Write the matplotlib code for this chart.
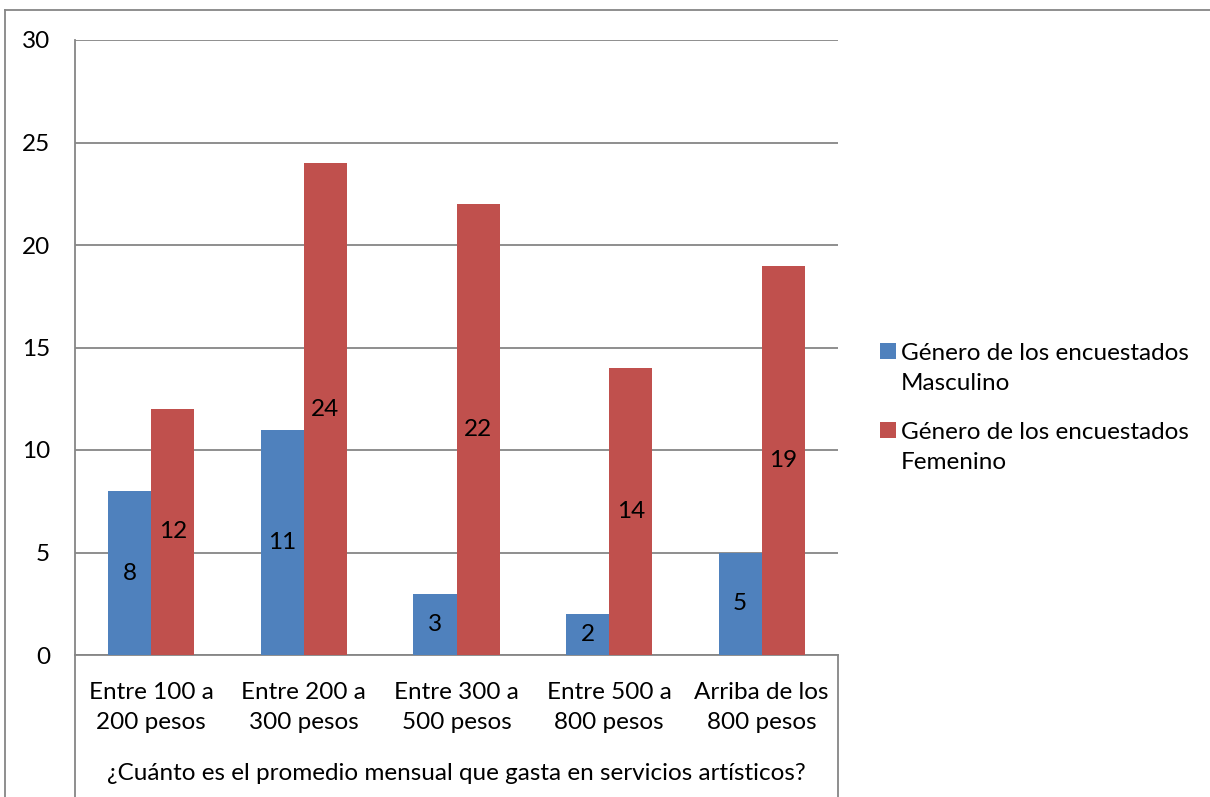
import matplotlib
matplotlib.use("Agg")
import matplotlib.pyplot as plt
from matplotlib.lines import Line2D
from matplotlib.patches import Rectangle
import numpy as np

plt.rcParams['font.family'] = ['Lato', 'DejaVu Sans']

categories = ["Entre 100 a\n200 pesos", "Entre 200 a\n300 pesos", "Entre 300 a\n500 pesos",
              "Entre 500 a\n800 pesos", "Arriba de los\n800 pesos"]
masculino = [8, 11, 3, 2, 5]
femenino = [12, 24, 22, 14, 19]
series_names = ["Género de los encuestados\nMasculino", "Género de los encuestados\nFemenino"]
axis_title = "¿Cuánto es el promedio mensual que gasta en servicios artísticos?"
yticks = [0, 5, 10, 15, 20, 25, 30]

W, H = 1210, 797
FS = 17.5
blue = "#4F81BD"
red = "#C0504D"
grid_c = "#868686"

fig = plt.figure(figsize=(W / 100, H / 100), dpi=100)
L, R, T, B = 75, 838, 40, 655
ax = fig.add_axes([L / W, 1 - B / H, (R - L) / W, (B - T) / H])

x = np.arange(len(categories))
bw = 0.283
b1 = ax.bar(x - bw / 2, masculino, bw, color=blue, label=series_names[0], zorder=3)
b2 = ax.bar(x + bw / 2, femenino, bw, color=red, label=series_names[1], zorder=3)

for bars, vals in ((b1, masculino), (b2, femenino)):
    for b, v in zip(bars, vals):
        ax.text(b.get_x() + b.get_width() / 2, v / 2, f"{v}", ha="center", va="center",
                fontsize=FS, color="black", zorder=4)

ax.set_xlim(-0.5, len(categories) - 0.5)
ax.set_ylim(0, 30)
ax.set_yticks(yticks)
ax.yaxis.grid(True, color=grid_c, linewidth=1.3, zorder=0)
ax.tick_params(axis="y", length=0, pad=18, labelsize=FS)
ax.set_xticks([])
for s in ("top", "right"):
    ax.spines[s].set_visible(False)
for s in ("left", "bottom"):
    ax.spines[s].set_color(grid_c)
    ax.spines[s].set_linewidth(1.3)

# category labels and the axis title below the plot
fig_tr = fig.transFigure
for i, c in enumerate(categories):
    xc = ax.transData.transform((i, 0))[0] / W
    fig.text(xc, 1 - 707.5 / H, c, ha="center", va="center", fontsize=FS,
             linespacing=1.55)
fig.text((L + R) / 2 / W, 1 - 773 / H, axis_title, ha="center", va="center", fontsize=FS)

# vertical lines bounding the category label area
for xp in (L, R):
    fig.add_artist(Line2D([xp / W, xp / W], [1 - B / H, 0], color=grid_c, lw=1.3,
                          transform=fig_tr))
# outer chart frame
fig.add_artist(Line2D([5 / W, 5 / W], [1 - 10 / H, 0], color=grid_c, lw=1.3, transform=fig_tr))
fig.add_artist(Line2D([5 / W, 1], [1 - 10 / H, 1 - 10 / H], color=grid_c, lw=1.3, transform=fig_tr))

# legend: swatch aligned with the first line of each two-line label
for k, (bars, name) in enumerate(((b1, series_names[0]), (b2, series_names[1]))):
    top = 343 + k * 79
    fig.add_artist(Rectangle((880 / W, 1 - (top + 16) / H), 16 / W, 16 / H,
                             facecolor=bars.patches[0].get_facecolor(), edgecolor="none",
                             transform=fig_tr))
    fig.text(901 / W, 1 - top / H, name, ha="left", va="top", fontsize=FS,
             linespacing=1.55)

fig.savefig("out.png", dpi=100)
